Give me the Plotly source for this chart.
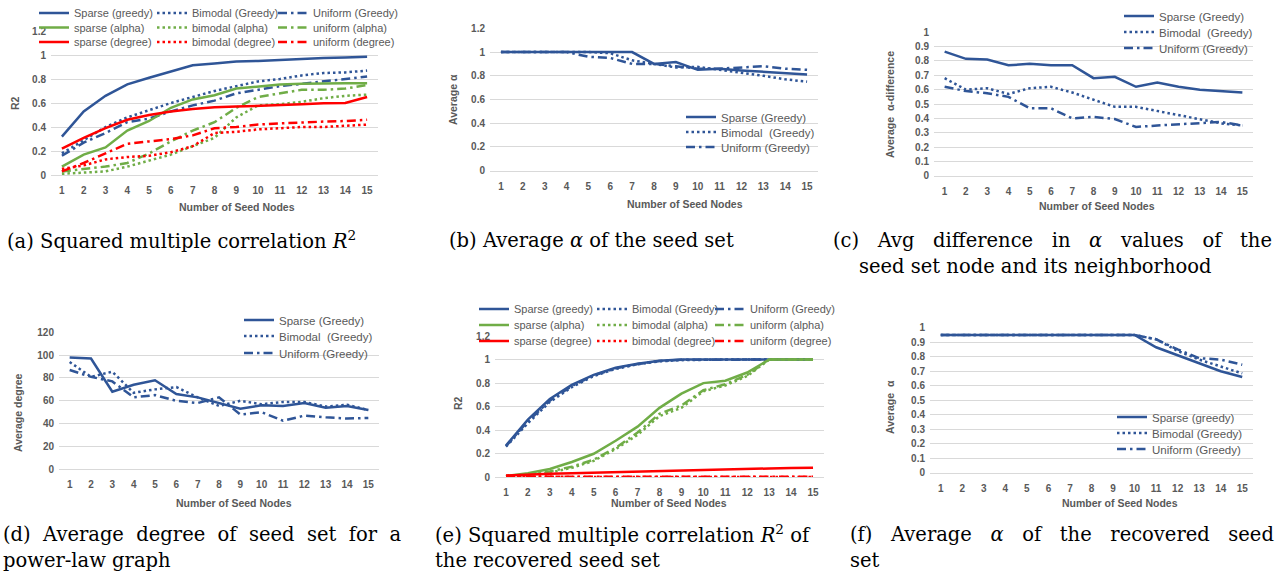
import plotly.graph_objects as go

W, H = 1286, 573

# ---------------- data ----------------
seeds = list(range(1, 16))
seed_labels = [str(i) for i in seeds]

# (a) Squared multiple correlation R2
a_sparse_greedy = [0.32, 0.53, 0.66, 0.755, 0.81, 0.865, 0.915, 0.93, 0.945, 0.95, 0.96, 0.97, 0.975, 0.98, 0.985]
a_bimodal_greedy = [0.18, 0.29, 0.40, 0.48, 0.54, 0.60, 0.65, 0.70, 0.74, 0.78, 0.80, 0.83, 0.85, 0.855, 0.87]
a_uniform_greedy = [0.16, 0.27, 0.35, 0.44, 0.47, 0.53, 0.58, 0.62, 0.68, 0.71, 0.74, 0.76, 0.78, 0.80, 0.82]
a_sparse_alpha = [0.07, 0.17, 0.23, 0.37, 0.45, 0.56, 0.63, 0.665, 0.72, 0.74, 0.755, 0.76, 0.765, 0.765, 0.765]
a_bimodal_alpha = [0.01, 0.02, 0.03, 0.07, 0.12, 0.17, 0.24, 0.31, 0.48, 0.58, 0.59, 0.61, 0.64, 0.66, 0.67]
a_uniform_alpha = [0.03, 0.05, 0.07, 0.10, 0.18, 0.28, 0.37, 0.44, 0.56, 0.65, 0.68, 0.71, 0.71, 0.72, 0.75]
a_sparse_degree = [0.22, 0.31, 0.39, 0.46, 0.50, 0.53, 0.55, 0.565, 0.57, 0.575, 0.583, 0.59, 0.597, 0.60, 0.65]
a_bimodal_degree = [0.05, 0.08, 0.13, 0.15, 0.16, 0.19, 0.24, 0.35, 0.36, 0.38, 0.39, 0.40, 0.40, 0.41, 0.42]
a_uniform_degree = [0.03, 0.10, 0.18, 0.26, 0.28, 0.30, 0.33, 0.39, 0.40, 0.42, 0.43, 0.44, 0.445, 0.45, 0.46]

# (b) Average alpha of the seed set
b_sparse = [1, 1, 1, 1, 1, 1, 1, 0.90, 0.915, 0.85, 0.86, 0.845, 0.835, 0.82, 0.81]
b_bimodal = [1, 1, 1, 1, 1, 0.99, 0.93, 0.90, 0.87, 0.875, 0.85, 0.83, 0.80, 0.77, 0.75]
b_uniform = [1, 1, 1, 1, 0.96, 0.95, 0.90, 0.90, 0.88, 0.86, 0.86, 0.87, 0.88, 0.86, 0.85]

# (c) Average alpha-difference
c_sparse = [0.865, 0.815, 0.81, 0.77, 0.78, 0.77, 0.77, 0.68, 0.69, 0.62, 0.65, 0.62, 0.60, 0.59, 0.58]
c_bimodal = [0.68, 0.60, 0.61, 0.57, 0.61, 0.62, 0.58, 0.53, 0.48, 0.48, 0.45, 0.42, 0.39, 0.365, 0.35]
c_uniform = [0.62, 0.59, 0.575, 0.55, 0.47, 0.47, 0.40, 0.41, 0.395, 0.34, 0.35, 0.36, 0.37, 0.375, 0.35]

# (d) Average degree
d_sparse = [98, 97, 68, 74, 78, 66, 63, 58, 53, 56, 55.5, 58, 54, 55.5, 52]
d_bimodal = [94, 81, 85.5, 67, 70, 72, 63, 55.5, 60, 57, 59, 59, 55, 56.5, 52]
d_uniform = [87, 81, 77, 63, 65, 60, 58, 63, 48, 50, 42.5, 47, 45.5, 44.5, 45]

# (e) R2 of the recovered seed set
e_sparse_greedy = [0.27, 0.49, 0.665, 0.785, 0.87, 0.93, 0.965, 0.99, 1, 1, 1, 1, 1, 1, 1]
e_bimodal_greedy = [0.26, 0.46, 0.64, 0.765, 0.86, 0.92, 0.96, 0.985, 0.995, 1, 1, 1, 1, 1, 1]
e_uniform_greedy = [0.265, 0.475, 0.65, 0.775, 0.865, 0.925, 0.962, 0.988, 0.998, 1, 1, 1, 1, 1, 1]
e_sparse_alpha = [0.01, 0.035, 0.07, 0.13, 0.20, 0.31, 0.43, 0.59, 0.71, 0.80, 0.82, 0.89, 1, 1, 1]
e_bimodal_alpha = [0.01, 0.02, 0.04, 0.08, 0.14, 0.24, 0.36, 0.52, 0.59, 0.73, 0.78, 0.86, 1, 1, 1]
e_uniform_alpha = [0.01, 0.025, 0.05, 0.09, 0.15, 0.25, 0.38, 0.54, 0.61, 0.74, 0.79, 0.87, 1, 1, 1]
e_sparse_degree = [0.015, 0.025, 0.03, 0.035, 0.04, 0.045, 0.05, 0.055, 0.06, 0.065, 0.068, 0.072, 0.075, 0.078, 0.082]
e_bimodal_degree = [0.004, 0.003, 0.003, 0.003, 0.003, 0.003, 0.003, 0.003, 0.003, 0.003, 0.003, 0.003, 0.003, 0.003, 0.003]
e_uniform_degree = [0.006, 0.005, 0.005, 0.005, 0.005, 0.005, 0.005, 0.005, 0.005, 0.006, 0.006, 0.005, 0.005, 0.006, 0.005]

# (f) Average alpha of the recovered seed set
f_sparse = [0.95, 0.95, 0.95, 0.95, 0.95, 0.95, 0.95, 0.95, 0.95, 0.95, 0.865, 0.81, 0.755, 0.70, 0.66]
f_bimodal = [0.95, 0.95, 0.95, 0.95, 0.95, 0.95, 0.95, 0.95, 0.95, 0.95, 0.92, 0.84, 0.78, 0.735, 0.685]
f_uniform = [0.95, 0.95, 0.95, 0.95, 0.95, 0.95, 0.95, 0.95, 0.95, 0.95, 0.92, 0.85, 0.79, 0.78, 0.745]

# ---------------- style ----------------
BLUE, GREEN, RED = "#2F5597", "#70AD47", "#FF0000"
GRAY, GRID = "#595959", "#D9D9D9"
SOLID, DOT, DASHDOT = "solid", "2.5px,3px", "9px,4px,2.5px,4px"
LW = 2.5
FONT = "Liberation Sans"

fig = go.Figure()

# panel geometry in pixels: (left, right, top, bottom), ymax, dtick
panels = {
    "a": dict(px=(51, 378, 31, 175), ymax=1.2, dtick=0.2, n=""),
    "b": dict(px=(490, 818, 28.3, 170.7), ymax=1.2, dtick=0.2, n="2"),
    "c": dict(px=(934, 1253, 32.3, 175.7), ymax=1.0, dtick=0.1, n="3"),
    "d": dict(px=(59, 379, 332.3, 469.3), ymax=120, dtick=20, n="4"),
    "e": dict(px=(495, 824, 336, 477.3), ymax=1.2, dtick=0.2, n="5"),
    "f": dict(px=(930, 1253, 327.7, 472.7), ymax=1.0, dtick=0.1, n="6"),
}

legend_count = [0]
legend_layouts = {}


def new_legend(text_x, y_center, size):
    legend_count[0] += 1
    k = legend_count[0]
    name = "legend" if k == 1 else f"legend{k}"
    legend_layouts[name] = dict(
        x=(text_x - 40) / W, xanchor="left",
        y=1 - y_center / H, yanchor="middle",
        bgcolor="rgba(0,0,0,0)", borderwidth=0,
        font=dict(family=FONT, size=size, color=GRAY),
        orientation="v", tracegroupgap=0, itemclick=False,
    )
    return name


def add(panel, y, name, color, dash, text_x, y_leg, size=11.5):
    n = panels[panel]["n"]
    fig.add_trace(go.Scatter(
        x=seeds, y=y, name=name, mode="lines",
        line=dict(color=color, width=LW, dash=dash),
        xaxis="x" + n, yaxis="y" + n,
        legend=new_legend(text_x, y_leg, size),
    ))


# (a)
colsA, rowsA, fsA = (74, 192, 313), (13, 27.5, 42), 11
add("a", a_sparse_greedy, "Sparse (greedy)", BLUE, SOLID, colsA[0], rowsA[0], fsA)
add("a", a_bimodal_greedy, "Bimodal (Greedy)", BLUE, DOT, colsA[1], rowsA[0], fsA)
add("a", a_uniform_greedy, "Uniform (Greedy)", BLUE, DASHDOT, colsA[2], rowsA[0], fsA)
add("a", a_sparse_alpha, "sparse (alpha)", GREEN, SOLID, colsA[0], rowsA[1], fsA)
add("a", a_bimodal_alpha, "bimodal (alpha)", GREEN, DOT, colsA[1], rowsA[1], fsA)
add("a", a_uniform_alpha, "uniform (alpha)", GREEN, DASHDOT, colsA[2], rowsA[1], fsA)
add("a", a_sparse_degree, "sparse (degree)", RED, SOLID, colsA[0], rowsA[2], fsA)
add("a", a_bimodal_degree, "bimodal (degree)", RED, DOT, colsA[1], rowsA[2], fsA)
add("a", a_uniform_degree, "uniform (degree)", RED, DASHDOT, colsA[2], rowsA[2], fsA)

# (b)
add("b", b_sparse, "Sparse (Greedy)", BLUE, SOLID, 721, 117)
add("b", b_bimodal, "Bimodal  (Greedy)", BLUE, DOT, 721, 132)
add("b", b_uniform, "Uniform (Greedy)", BLUE, DASHDOT, 721, 147)

# (c)
add("c", c_sparse, "Sparse (Greedy)", BLUE, SOLID, 1159, 16)
add("c", c_bimodal, "Bimodal  (Greedy)", BLUE, DOT, 1159, 32)
add("c", c_uniform, "Uniform (Greedy)", BLUE, DASHDOT, 1159, 48)

# (d)
add("d", d_sparse, "Sparse (Greedy)", BLUE, SOLID, 279, 320)
add("d", d_bimodal, "Bimodal  (Greedy)", BLUE, DOT, 279, 336)
add("d", d_uniform, "Uniform (Greedy)", BLUE, DASHDOT, 279, 353)

# (e)
colsE, rowsE, fsE = (514, 632, 750), (309, 325, 341), 11
add("e", e_sparse_greedy, "Sparse (greedy)", BLUE, SOLID, colsE[0], rowsE[0], fsE)
add("e", e_bimodal_greedy, "Bimodal (Greedy)", BLUE, DOT, colsE[1], rowsE[0], fsE)
add("e", e_uniform_greedy, "Uniform (Greedy)", BLUE, DASHDOT, colsE[2], rowsE[0], fsE)
add("e", e_sparse_alpha, "sparse (alpha)", GREEN, SOLID, colsE[0], rowsE[1], fsE)
add("e", e_bimodal_alpha, "bimodal (alpha)", GREEN, DOT, colsE[1], rowsE[1], fsE)
add("e", e_uniform_alpha, "uniform (alpha)", GREEN, DASHDOT, colsE[2], rowsE[1], fsE)
add("e", e_sparse_degree, "sparse (degree)", RED, SOLID, colsE[0], rowsE[2], fsE)
add("e", e_bimodal_degree, "bimodal (degree)", RED, DOT, colsE[1], rowsE[2], fsE)
add("e", e_uniform_degree, "uniform (degree)", RED, DASHDOT, colsE[2], rowsE[2], fsE)

# (f)
add("f", f_sparse, "Sparse (greedy)", BLUE, SOLID, 1152, 417)
add("f", f_bimodal, "Bimodal (Greedy)", BLUE, DOT, 1152, 433)
add("f", f_uniform, "Uniform (Greedy)", BLUE, DASHDOT, 1152, 449)

# ---------------- axes ----------------
layout = dict(
    width=W, height=H, margin=dict(l=0, r=0, t=0, b=0, pad=0, autoexpand=False),
    paper_bgcolor="white", plot_bgcolor="white",
    font=dict(family=FONT, color=GRAY),
    showlegend=True,
)
tickfont = dict(family=FONT, size=10, color=GRAY, weight="bold")
for key, p in panels.items():
    l, r, t, b = p["px"]
    n = p["n"]
    layout["xaxis" + n] = dict(
        domain=[l / W, r / W], anchor="y" + n,
        range=[0.5, 15.5], tickvals=seeds, ticktext=seed_labels,
        showgrid=False, zeroline=False, showline=True, linecolor=GRID, linewidth=1,
        ticks="", tickfont=tickfont, ticklabelstandoff=6, fixedrange=True,
    )
    layout["yaxis" + n] = dict(
        domain=[1 - b / H, 1 - t / H], anchor="x" + n,
        range=[0, p["ymax"]], dtick=p["dtick"], tick0=0,
        showgrid=True, gridcolor=GRID, gridwidth=1, zeroline=False, showline=False,
        ticks="", tickfont=tickfont, ticklabelstandoff=4, fixedrange=True,
    )
layout.update(legend_layouts)
fig.update_layout(**layout)

# axis titles
title_font = dict(family=FONT, size=10.5, color=GRAY, weight="bold")
xtitles = [(237, 207), (685, 204), (1097, 206), (234, 503), (669, 503), (1120, 503)]
for (cx, cy) in xtitles:
    fig.add_annotation(text="Number of Seed Nodes", x=cx / W, y=1 - cy / H, xref="paper", yref="paper",
                       showarrow=False, xanchor="center", yanchor="middle", font=title_font)
ytitles = [("R2", 15, 103), ("Average α", 453, 100), ("Average  α-difference", 890, 105),
           ("Average degree", 18, 413), ("R2", 458, 403), ("Average  α", 890, 407)]
for (txt, cx, cy) in ytitles:
    fig.add_annotation(text=txt.replace("  ", " \u00a0"), x=cx / W, y=1 - cy / H, xref="paper", yref="paper",
                       textangle=-90, showarrow=False, xanchor="center", yanchor="middle", font=title_font)

# captions (justified lines widened with extra non-breaking spaces)
NB = "\u00a0"
cap_font = dict(family="DejaVu Serif", size=19.5, color="black")
captions = [
    ("(a) Squared multiple correlation <i>R</i><sup>2</sup>", 5, 240),
    ("(b) Average <i>α</i> of the seed set", 447, 240),
    ((" " + NB + NB).join(["(c)", "Avg", "difference", "in", "<i>α</i>", "values", "of", "the"]), 831, 240),
    ("seed set node and its neighborhood", 857, 266),
    ((" " + NB).join(["(d)", "Average", "degree", "of", "seed", "set", "for", "a"]), 1, 534),
    ("power-law graph", 1, 560),
    ("(e) Squared multiple correlation <i>R</i><sup>2</sup> of", 433, 534),
    ("the recovered seed set", 433, 560),
    ((" " + NB + NB).join(["(f)", "Average", "<i>α</i>", "of", "the", "recovered", "seed"]), 848, 534),
    ("set", 848, 560),
]
for (txt, lx, cy) in captions:
    fig.add_annotation(text=txt, x=lx / W, y=1 - cy / H, xref="paper", yref="paper",
                       showarrow=False, xanchor="left", yanchor="middle", font=cap_font)

fig.write_html("out.html", config={"displayModeBar": False},
               post_script="document.body.style.margin='0';document.body.style.padding='0';")
